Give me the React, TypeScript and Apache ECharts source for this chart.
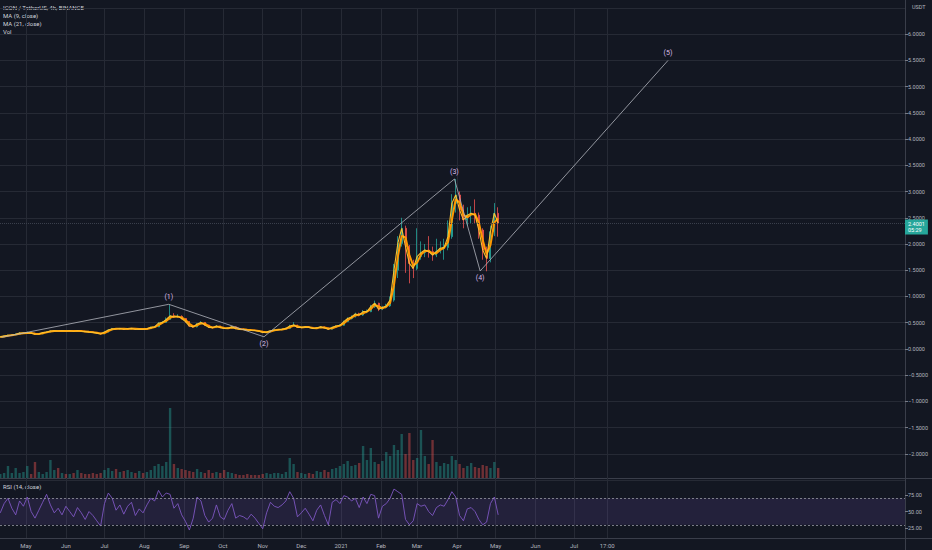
import React, { useEffect, useRef } from 'react';
import * as echarts from 'echarts';

const DAY = 86400000;
const START = Date.UTC(2020, 3, 11);
const STEP_DAYS = 3;
const FIRST_OPEN = 0.22;
const LAST_PRICE = 2.4001;

const closes = [
  0.23, 0.245, 0.26, 0.265, 0.28, 0.30, 0.30, 0.31, 0.30, 0.28,
  0.285, 0.31, 0.32, 0.34, 0.345, 0.34, 0.345, 0.34, 0.345, 0.335,
  0.345, 0.335, 0.33, 0.32, 0.315, 0.30, 0.285, 0.32, 0.36, 0.385,
  0.38, 0.39, 0.375, 0.385, 0.39, 0.375, 0.38, 0.375, 0.385, 0.41,
  0.42, 0.49, 0.505, 0.56, 0.63, 0.61, 0.62, 0.58, 0.52, 0.435,
  0.42, 0.475, 0.505, 0.455, 0.41, 0.405, 0.435, 0.405, 0.39, 0.395,
  0.42, 0.385, 0.375, 0.37, 0.36, 0.355, 0.35, 0.335, 0.315, 0.32,
  0.345, 0.36, 0.365, 0.375, 0.39, 0.435, 0.455, 0.41, 0.41, 0.42,
  0.41, 0.39, 0.40, 0.42, 0.40, 0.375, 0.41, 0.435, 0.45, 0.52,
  0.58, 0.61, 0.665, 0.645, 0.71, 0.71, 0.805, 0.87, 0.755, 0.79,
  0.82, 0.93, 1.50, 2.01, 2.30, 1.95, 1.63, 1.535, 1.76, 1.835,
  1.885, 1.855, 1.79, 1.855, 1.92, 1.935, 2.14, 2.775, 2.935, 2.65,
  2.46, 2.55, 2.585, 2.55, 2.265, 1.885, 1.725, 2.235, 2.585, 2.395,
];

const highs = [
  0.24, 0.255, 0.27, 0.28, 0.295, 0.32, 0.315, 0.33, 0.32, 0.305,
  0.295, 0.32, 0.335, 0.355, 0.36, 0.355, 0.36, 0.355, 0.355, 0.355,
  0.36, 0.35, 0.345, 0.34, 0.33, 0.32, 0.305, 0.33, 0.375, 0.40,
  0.395, 0.40, 0.395, 0.395, 0.40, 0.395, 0.39, 0.39, 0.395, 0.425,
  0.44, 0.51, 0.53, 0.60, 0.84, 0.68, 0.66, 0.64, 0.59, 0.53,
  0.45, 0.49, 0.53, 0.51, 0.46, 0.42, 0.45, 0.44, 0.41, 0.405,
  0.435, 0.425, 0.39, 0.385, 0.375, 0.37, 0.365, 0.355, 0.34, 0.33,
  0.355, 0.37, 0.375, 0.385, 0.405, 0.46, 0.51, 0.46, 0.42, 0.43,
  0.425, 0.415, 0.41, 0.435, 0.425, 0.405, 0.42, 0.45, 0.47, 0.54,
  0.60, 0.64, 0.69, 0.69, 0.74, 0.75, 0.84, 0.92, 0.88, 0.82,
  0.86, 1.00, 1.62, 2.15, 2.50, 2.35, 1.98, 1.70, 2.30, 2.05,
  2.00, 2.15, 1.95, 2.10, 2.05, 2.10, 2.45, 2.95, 3.24, 3.00,
  2.75, 2.70, 2.72, 2.85, 2.60, 2.30, 1.95, 2.35, 2.78, 2.70,
];

const lows = [
  0.215, 0.225, 0.24, 0.25, 0.26, 0.275, 0.29, 0.295, 0.29, 0.27,
  0.27, 0.28, 0.305, 0.315, 0.33, 0.33, 0.33, 0.33, 0.335, 0.325,
  0.33, 0.325, 0.32, 0.31, 0.305, 0.29, 0.275, 0.28, 0.315, 0.355,
  0.37, 0.37, 0.365, 0.37, 0.375, 0.365, 0.37, 0.365, 0.37, 0.38,
  0.40, 0.415, 0.48, 0.50, 0.55, 0.59, 0.59, 0.56, 0.50, 0.42,
  0.40, 0.41, 0.46, 0.44, 0.40, 0.39, 0.40, 0.395, 0.38, 0.38,
  0.39, 0.375, 0.365, 0.36, 0.35, 0.345, 0.34, 0.325, 0.30, 0.30,
  0.315, 0.34, 0.35, 0.355, 0.37, 0.385, 0.43, 0.40, 0.40, 0.40,
  0.40, 0.38, 0.38, 0.395, 0.39, 0.365, 0.37, 0.40, 0.425, 0.44,
  0.51, 0.56, 0.60, 0.62, 0.63, 0.68, 0.70, 0.78, 0.72, 0.74,
  0.77, 0.80, 0.90, 1.35, 1.95, 1.45, 1.25, 1.35, 1.50, 1.70,
  1.75, 1.74, 1.68, 1.75, 1.82, 1.70, 1.88, 2.10, 2.60, 2.45,
  2.30, 2.35, 2.40, 2.40, 2.10, 1.70, 1.48, 1.65, 2.15, 2.14,
];

const ma21 = [
  0.225, 0.238, 0.252, 0.262, 0.272, 0.29, 0.30, 0.305, 0.305, 0.29,
  0.283, 0.298, 0.315, 0.33, 0.343, 0.343, 0.343, 0.343, 0.343, 0.34,
  0.34, 0.34, 0.333, 0.325, 0.318, 0.308, 0.293, 0.303, 0.34, 0.372,
  0.383, 0.385, 0.383, 0.38, 0.387, 0.383, 0.378, 0.378, 0.38, 0.397,
  0.415, 0.455, 0.497, 0.533, 0.595, 0.62, 0.615, 0.60, 0.55, 0.478,
  0.428, 0.448, 0.49, 0.48, 0.433, 0.408, 0.42, 0.42, 0.398, 0.393,
  0.408, 0.403, 0.38, 0.373, 0.365, 0.358, 0.353, 0.343, 0.325, 0.318,
  0.333, 0.353, 0.363, 0.37, 0.383, 0.413, 0.445, 0.433, 0.41, 0.415,
  0.415, 0.40, 0.395, 0.41, 0.41, 0.388, 0.393, 0.423, 0.443, 0.485,
  0.55, 0.595, 0.638, 0.655, 0.678, 0.71, 0.758, 0.838, 0.813, 0.773,
  0.805, 0.875, 1.215, 1.755, 2.155, 2.125, 1.79, 1.583, 1.648, 1.798,
  1.86, 1.87, 1.823, 1.823, 1.888, 1.928, 2.038, 2.458, 2.855, 2.793,
  2.555, 2.505, 2.568, 2.568, 2.408, 2.075, 1.805, 1.98, 2.41, 2.49,
];

const volumes = [
  4, 5, 12, 5, 10, 5, 6, 12, 4, 16,
  6, 4, 6, 18, 8, 10, 5, 4, 4, 5,
  8, 5, 4, 4, 5, 4, 5, 8, 10, 7,
  9, 6, 7, 8, 6, 5, 7, 5, 6, 8,
  12, 14, 12, 16, 70, 14, 10, 9, 8, 7,
  6, 9, 6, 5, 8, 5, 6, 5, 8, 6,
  5, 4, 3, 3, 4, 3, 3, 3, 4, 5,
  4, 5, 5, 4, 6, 20, 14, 6, 5, 4,
  5, 4, 7, 6, 8, 6, 9, 10, 12, 14,
  17, 12, 13, 15, 32, 18, 30, 16, 14, 17,
  26, 22, 33, 28, 44, 24, 45, 18, 20, 48,
  22, 14, 38, 16, 12, 15, 14, 22, 18, 14,
  10, 12, 15, 11, 10, 13, 12, 10, 16, 10,
];

const rsi = [
  48, 62, 70, 55, 45, 66, 58, 72, 50, 40,
  52, 64, 76, 60, 48, 55, 45, 58, 50, 42,
  56, 48, 38, 50, 44, 36, 28, 62, 78, 70,
  52, 60, 46, 58, 64, 44, 54, 48, 60, 70,
  66, 82, 72, 78, 76, 55, 62, 45, 35, 22,
  40, 72, 66, 44, 34, 40, 60, 42, 38, 52,
  62, 40, 44, 42, 38, 46, 40, 32, 24, 48,
  64, 58, 56, 60, 66, 80, 70, 42, 48, 55,
  46, 36, 52, 60, 44, 30, 64, 68, 62, 74,
  72, 66, 70, 56, 72, 62, 76, 74, 40, 58,
  62, 70, 84, 80, 76, 38, 30, 36, 62, 58,
  60, 50, 44, 56, 60, 58, 68, 80, 72, 44,
  36, 54, 56, 50, 38, 30, 34, 62, 72, 45,
];

const monthTickDates = [
  '2020-05-01', '2020-06-01', '2020-07-01', '2020-08-01', '2020-09-01', '2020-10-01',
  '2020-11-01', '2020-12-01', '2021-01-01', '2021-02-01', '2021-03-01', '2021-04-01',
  '2021-05-01', '2021-06-01', '2021-07-01', '2021-07-26T17:00:00Z',
];
const monthTickLabels = [
  'May', 'Jun', 'Jul', 'Aug', 'Sep', 'Oct', 'Nov', 'Dec', '2021', 'Feb', 'Mar', 'Apr',
  'May', 'Jun', 'Jul', '17:00',
];

const waveDates = ['2020-04-12', '2020-08-20', '2020-11-02', '2021-03-30', '2021-04-19', '2021-09-12'];
const wavePrices = [0.22, 0.85, 0.23, 3.24, 1.485, 5.5];
const waveLabels = ['', '(1)', '(2)', '(3)', '(4)', '(5)'];
const wavePositions = ['top', 'top', 'bottom', 'top', 'bottom', 'top'];

const rsiTicks = [25, 50, 75];

const BG = '#131722';
const GRID = '#262a35';
const TXT = '#b2b5be';
const UP = '#26a69a';
const DOWN = '#ef5350';

// visible time range of the chart (x = 0 .. 905 px)
const X_MIN = Date.UTC(2020, 3, 10, 19, 12);
const X_MAX = X_MIN + 703.4 * DAY;

export default function App() {
  const ref = useRef<HTMLDivElement>(null);

  useEffect(() => {
    document.body.style.margin = '0';
    document.body.style.background = BG;
    const chart = echarts.init(ref.current!, null, { renderer: 'svg' });

    const times = closes.map((_, i) => START + i * STEP_DAYS * DAY);
    const opens = closes.map((_, i) => (i === 0 ? FIRST_OPEN : closes[i - 1]));
    const tickTimes = monthTickDates.map((d) => Date.parse(d));

    const candleData = closes.map((c, i) => [times[i], opens[i], c, lows[i], highs[i]]);
    const ma9Data = closes.map((c, i) => [times[i], c]);
    const ma21Data = ma21.map((v, i) => [times[i], v]);
    const volData = volumes.map((v, i) => ({
      value: [times[i], v],
      itemStyle: { color: closes[i] >= opens[i] ? 'rgba(38,166,154,0.42)' : 'rgba(239,83,80,0.42)' },
    }));
    const rsiData = rsi.map((v, i) => [times[i], v]);
    const waveData = waveDates.map((d, i) => ({
      value: [Date.parse(d), wavePrices[i]],
      label: { show: waveLabels[i] !== '', formatter: waveLabels[i], position: wavePositions[i] },
    }));

    const xAxisFor = (gridIndex: number) => ({
      type: 'value',
      gridIndex,
      min: X_MIN,
      max: X_MAX,
      axisLine: { show: false },
      axisTick: { show: false, customValues: tickTimes },
      axisLabel:
        gridIndex === 2
          ? {
              show: true,
              customValues: tickTimes,
              color: TXT,
              fontSize: 6,
              margin: 4,
              formatter: (v: number) => {
                const k = tickTimes.indexOf(v);
                return k >= 0 ? monthTickLabels[k] : '';
              },
            }
          : { show: false },
      splitLine: { show: gridIndex !== 1, lineStyle: { color: GRID, width: 1 } },
    });

    const option: any = {
      animation: false,
      backgroundColor: BG,
      textStyle: { fontFamily: 'Roboto, sans-serif' },
      grid: [
        { left: 0, top: 8, width: 905, height: 472 },
        { left: 0, top: 378, width: 905, height: 100 },
        { left: 0, top: 478, width: 905, height: 60 },
      ],
      xAxis: [xAxisFor(0), xAxisFor(1), xAxisFor(2)],
      yAxis: [
        {
          type: 'value',
          gridIndex: 0,
          position: 'right',
          min: -2.5,
          max: 6.5,
          interval: 0.5,
          axisLine: { show: false },
          axisTick: { show: true, length: 3, lineStyle: { color: '#787b86' } },
          axisLabel: {
            color: TXT,
            fontSize: 5.5,
            margin: 3,
            showMaxLabel: false,
            showMinLabel: false,
            formatter: (v: number) => v.toFixed(4).replace('-', '\u2212'),
          },
          splitLine: { lineStyle: { color: GRID, width: 1 } },
        },
        { type: 'value', gridIndex: 1, min: 0, max: 100, show: false },
        {
          type: 'value',
          gridIndex: 2,
          position: 'right',
          min: 10,
          max: 100.7,
          axisLine: { show: false },
          axisTick: { show: true, length: 3, customValues: rsiTicks, lineStyle: { color: '#787b86' } },
          axisLabel: {
            customValues: rsiTicks,
            color: TXT,
            fontSize: 5.5,
            margin: 3,
            formatter: (v: number) => v.toFixed(2),
          },
          splitLine: { show: false },
        },
      ],
      series: [
        {
          type: 'bar',
          name: 'Vol',
          xAxisIndex: 1,
          yAxisIndex: 1,
          data: volData,
          barWidth: 2.4,
          z: 1,
        },
        {
          type: 'candlestick',
          name: 'ICON / TetherUS',
          xAxisIndex: 0,
          yAxisIndex: 0,
          data: candleData,
          encode: { x: 0, y: [1, 2, 3, 4] },
          barWidth: 1.5,
          itemStyle: { color: UP, color0: DOWN, borderColor: UP, borderColor0: DOWN, borderWidth: 0.8 },
          z: 2,
          markLine: {
            silent: true,
            symbol: 'none',
            lineStyle: { color: '#3a3f4c', type: 'dotted', width: 1 },
            label: {
              show: true,
              position: 'end',
              formatter: '2.4001\n05:29',
              backgroundColor: UP,
              color: '#ffffff',
              fontSize: 5.5,
              lineHeight: 6.5,
              padding: [1, 3, 1, 3],
              distance: 0,
              offset: [0, 4],
            },
            data: [{ yAxis: LAST_PRICE }],
          },
        },
        {
          type: 'line',
          name: 'MA (21, close)',
          xAxisIndex: 0,
          yAxisIndex: 0,
          data: ma21Data,
          symbol: 'none',
          lineStyle: { color: '#ff9800', width: 2 },
          z: 3,
        },
        {
          type: 'line',
          name: 'MA (9, close)',
          xAxisIndex: 0,
          yAxisIndex: 0,
          data: ma9Data,
          symbol: 'none',
          lineStyle: { color: '#fbc02d', width: 1.1 },
          z: 4,
        },
        {
          type: 'line',
          name: 'Elliott',
          xAxisIndex: 0,
          yAxisIndex: 0,
          data: waveData,
          symbol: 'circle',
          symbolSize: 1,
          itemStyle: { color: 'rgba(0,0,0,0)' },
          lineStyle: { color: '#b2b5be', width: 0.8 },
          label: { color: '#dcbde8', fontSize: 7, distance: 3 },
          z: 5,
        },
        {
          type: 'line',
          name: 'RSI',
          xAxisIndex: 2,
          yAxisIndex: 2,
          data: rsiData,
          symbol: 'none',
          lineStyle: { color: '#7e57c2', width: 0.9 },
          z: 3,
          markArea: {
            silent: true,
            itemStyle: { color: 'rgba(126,87,194,0.16)' },
            data: [[{ yAxis: 30 }, { yAxis: 70 }]],
          },
          markLine: {
            silent: true,
            symbol: 'none',
            label: { show: false },
            lineStyle: { color: '#9598a1', type: [2, 2], width: 0.8 },
            data: [{ yAxis: 70 }, { yAxis: 30 }],
          },
        },
      ],
      graphic: [
        { type: 'line', shape: { x1: 905.5, y1: 0, x2: 905.5, y2: 550 }, style: { stroke: '#3a3e4a', lineWidth: 1 } },
        { type: 'line', shape: { x1: 0, y1: 478.5, x2: 932, y2: 478.5 }, style: { stroke: '#3a3e4a', lineWidth: 1 } },
        { type: 'line', shape: { x1: 0, y1: 538.5, x2: 932, y2: 538.5 }, style: { stroke: '#3a3e4a', lineWidth: 1 } },
        { type: 'text', left: 3, top: 4, style: { text: 'ICON / TetherUS, 4h, BINANCE', fill: '#d1d4dc', fontSize: 6, fontFamily: 'Roboto' } },
        { type: 'text', left: 3, top: 12, style: { text: 'MA (9, close)', fill: '#d1d4dc', fontSize: 6, fontFamily: 'Roboto' } },
        { type: 'text', left: 3, top: 20, style: { text: 'MA (21, close)', fill: '#d1d4dc', fontSize: 6, fontFamily: 'Roboto' } },
        { type: 'text', left: 3, top: 28, style: { text: 'Vol', fill: '#d1d4dc', fontSize: 6, fontFamily: 'Roboto' } },
        { type: 'text', left: 3, top: 483, style: { text: 'RSI (14, close)', fill: '#d1d4dc', fontSize: 6, fontFamily: 'Roboto' } },
        { type: 'text', left: 912, top: 4, style: { text: 'USDT', fill: TXT, fontSize: 5.5, fontFamily: 'Roboto' } },
      ],
    };

    chart.setOption(option);
    return () => chart.dispose();
  }, []);

  return <div ref={ref} style={{ width: 932, height: 550, background: BG }} />;
}
